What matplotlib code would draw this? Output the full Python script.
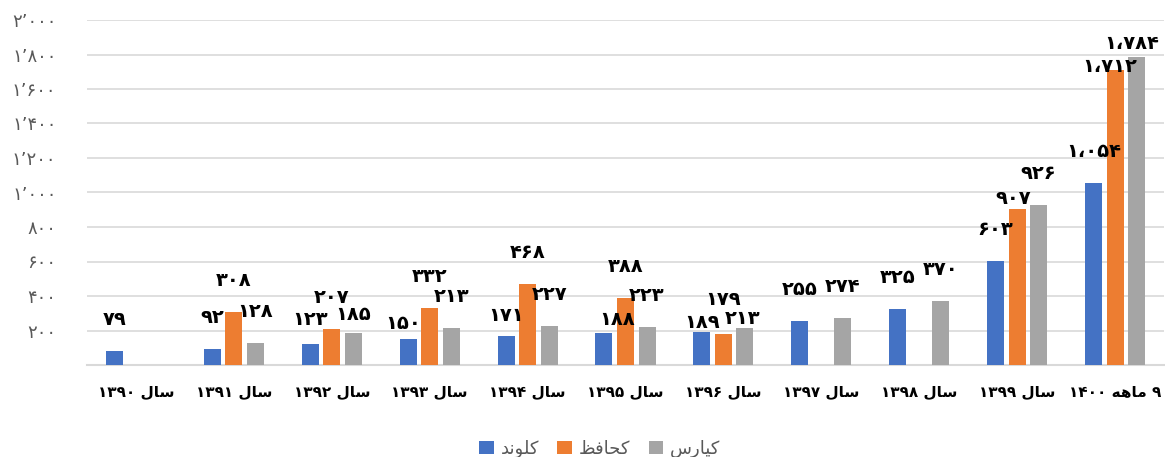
import numpy as np
import matplotlib
matplotlib.use('Agg')
import matplotlib.pyplot as plt

# --- data ---
categories = ['سال ۱۳۹۰', 'سال ۱۳۹۱', 'سال ۱۳۹۲', 'سال ۱۳۹۳', 'سال ۱۳۹۴', 'سال ۱۳۹۵',
              'سال ۱۳۹۶', 'سال ۱۳۹۷', 'سال ۱۳۹۸', 'سال ۱۳۹۹', '۹ ماهه ۱۴۰۰']
series_names = ['کلوند', 'کحافظ', 'کیارس']
kelvand = [79, 92, 123, 150, 171, 188, 189, 255, 325, 603, 1054]
khafez = [np.nan, 308, 207, 332, 468, 388, 179, np.nan, np.nan, 907, 1712]
kiaras = [np.nan, 128, 185, 213, 227, 223, 213, 274, 370, 926, 1784]
y_ticks = list(range(0, 2001, 200))

colors = ['#4472C4', '#ED7D31', '#A5A5A5']

# label offsets (pixels) where Excel moved them; default is straight above
default_off = (0, 31.5)
label_off = {
    (0, 2): (0, 24.5), (2, 2): (0, 18.5),
    (0, 3): (-5, 15.5),
    (0, 4): (0, 20),
    (0, 5): (13, 13),
    (0, 6): (0, 9.5), (1, 6): (0, 34.5), (2, 6): (-2, 10),
    (1, 9): (-3.5, 10.5),
    (1, 10): (-5.5, 3.5), (2, 10): (-5, 14),
}

# --- minimal persian shaping (matplotlib has no RTL / joining) ---
FORMS = {
    'س': ('\uFEB1', '\uFEB2', '\uFEB3', '\uFEB4'),
    'ا': ('\uFE8D', '\uFE8E', None, None),
    'ل': ('\uFEDD', '\uFEDE', '\uFEDF', '\uFEE0'),
    'م': ('\uFEE1', '\uFEE2', '\uFEE3', '\uFEE4'),
    'ه': ('\uFEE9', '\uFEEA', '\uFEEB', '\uFEEC'),
    'ک': ('\uFB8E', '\uFB8F', '\uFB90', '\uFB91'),
    'و': ('\uFEED', '\uFEEE', None, None),
    'ن': ('\uFEE5', '\uFEE6', '\uFEE7', '\uFEE8'),
    'د': ('\uFEA9', '\uFEAA', None, None),
    'ح': ('\uFEA1', '\uFEA2', '\uFEA3', '\uFEA4'),
    'ف': ('\uFED1', '\uFED2', '\uFED3', '\uFED4'),
    'ظ': ('\uFEC5', '\uFEC6', '\uFEC7', '\uFEC8'),
    'ی': ('\uFBFC', '\uFBFD', '\uFBFE', '\uFBFF'),
    'ر': ('\uFEAD', '\uFEAE', None, None),
}


def shape_word(w):
    out = []
    for i, ch in enumerate(w):
        if ch not in FORMS:
            out.append(ch)
            continue
        prev = w[i - 1] if i > 0 else None
        nxt = w[i + 1] if i + 1 < len(w) else None
        jp = prev in FORMS and FORMS[prev][2] is not None
        jn = nxt in FORMS and FORMS[ch][2] is not None
        iso, fin, ini, med = FORMS[ch]
        if jp and jn:
            out.append(med)
        elif jp:
            out.append(fin)
        elif jn:
            out.append(ini)
        else:
            out.append(iso)
    return ''.join(out)


def rtl(text):
    words = text.split(' ')
    vis = []
    for w in words:
        if any(c in FORMS for c in w):
            vis.append(shape_word(w)[::-1])
        else:
            vis.append(w)
    return ' '.join(vis[::-1])


FA = str.maketrans('0123456789', '۰۱۲۳۴۵۶۷۸۹')


def fa_num(v, sep):
    return f'{int(v):,}'.replace(',', sep).translate(FA)


# --- plot ---
W, H = 1165, 457
fig = plt.figure(figsize=(W / 100, H / 100), dpi=100)
ax = fig.add_axes([87 / W, 1 - 365 / H, (1164 - 87) / W, (365 - 20) / H])

x = np.arange(len(categories))
step = 0.22
bw = 0.174
data = [kelvand, khafez, kiaras]
handles = []
for s, vals in enumerate(data):
    vals = np.array(vals, dtype=float)
    ok = ~np.isnan(vals)
    xs = x[ok] + (s - 1) * step
    b = ax.bar(xs, vals[ok], width=bw, color=colors[s], zorder=3,
               label=rtl(series_names[s]))
    handles.append(b)
    for xi, ci, v in zip(xs, x[ok], vals[ok]):
        dx, dy = label_off.get((s, int(ci)), default_off)
        ax.annotate(fa_num(v, '،'), (xi, v), xytext=(dx, dy),
                    textcoords='offset pixels', ha='center', va='center',
                    fontsize=14, fontweight='bold', color='black', zorder=5,
                    family='DejaVu Sans')

ax.set_xlim(-0.5, len(categories) - 0.5)
ax.set_ylim(0, 2000)
ax.set_yticks(y_ticks)
ax.set_yticklabels([fa_num(t, '’') if t > 0 else '' for t in y_ticks],
                   fontsize=13, color='#595959')
ax.set_xticks(x)
ax.set_xticklabels([rtl(c) for c in categories], fontsize=11, fontweight='bold',
                   color='black')
ax.tick_params(axis='y', length=0, pad=22)
ax.tick_params(axis='x', length=0, pad=14)
ax.grid(axis='y', color='#D9D9D9', linewidth=1.2, zorder=0)
for sp in ['top', 'right', 'left']:
    ax.spines[sp].set_visible(False)
ax.spines['bottom'].set_color('#D9D9D9')
ax.spines['bottom'].set_linewidth(1.5)

fig.legend(handles=handles, loc='center', bbox_to_anchor=(0.515, 1 - 449 / H),
           ncol=3, frameon=False, fontsize=13, handlelength=0.8, handleheight=0.8,
           columnspacing=1.0, handletextpad=0.4, labelcolor='#595959')

fig.savefig('out.png', dpi=100)
